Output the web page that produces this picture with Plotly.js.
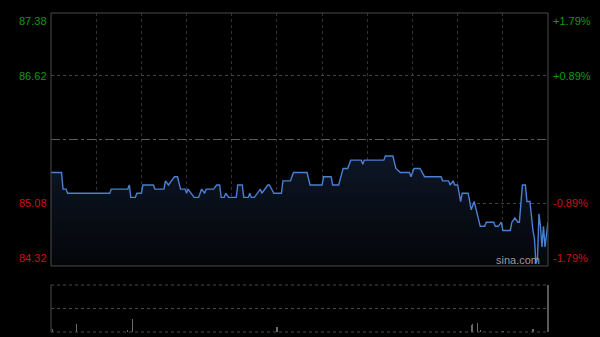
<!DOCTYPE html>
<html>
<head>
<meta charset="utf-8">
<script src="https://cdn.plot.ly/plotly-3.0.1.min.js"></script>
<style>
html,body{margin:0;padding:0;background:#000;}
#chart{width:600px;height:337px;}
</style>
</head>
<body>
<div id="chart"></div>
<script>
// ---- data (minute index from the open, price in HKD) ----
var minutes = [0,7,8,10,11,39,40,51,52,53,56,57,60,61,68,69,75,76,78,80,82,84,86,89,90,91,95,98,100,102,103,108,110,112,113,115,116,118,123,124,127,128,131,132,133,135,137,139,140,144,145,148,153,154,159,161,170,172,180,181,186,187,191,194,197,199,206,207,208,221,222,227,229,232,238,239,241,245,248,259,260,264,265,267,268,270,272,273,277,279,281,285,288,289,294,295,297,299,300,305,306,308,310,311,313,315,316,318,320,321,322,323,324,325,326,327,328,329,330];
var prices  = [85.45,85.45,85.25,85.25,85.20,85.20,85.25,85.25,85.30,85.15,85.15,85.20,85.20,85.30,85.30,85.25,85.25,85.35,85.30,85.35,85.40,85.40,85.25,85.25,85.20,85.25,85.15,85.15,85.25,85.20,85.25,85.25,85.30,85.30,85.15,85.15,85.20,85.15,85.15,85.30,85.30,85.15,85.15,85.20,85.15,85.15,85.20,85.25,85.20,85.30,85.30,85.20,85.20,85.35,85.35,85.45,85.45,85.30,85.30,85.40,85.40,85.30,85.30,85.50,85.50,85.60,85.60,85.55,85.60,85.60,85.65,85.65,85.50,85.45,85.45,85.40,85.50,85.50,85.40,85.40,85.35,85.35,85.30,85.35,85.30,85.30,85.10,85.20,85.20,85.00,85.10,84.80,84.80,84.85,84.85,84.80,84.80,84.85,84.75,84.75,84.85,84.90,84.85,84.85,85.30,85.30,85.10,85.10,84.75,84.65,84.35,84.40,84.95,84.80,84.55,84.80,84.55,84.70,84.85];
var volMinutes = [1,17,51,54,150,272,279,280,283,285,300,320,330];
var volValues  = [6,17,4,28,11,2,15,17,19,4,2,6,100];
var prevClose = 85.85;
var leftTicks  = [87.38, 86.62, 85.08, 84.32];
var leftText   = ['87.38','86.62','85.08','84.32'];
var rightText  = ['+1.79%','+0.89%','-0.89%','-1.79%'];
var gridVals   = [86.62, 85.08];
var sessionMinutes = 330;

var green = '#0f9a0f', red = '#cc1111';
var font = 'Liberation Sans, Arial, sans-serif';

var traces = [
  {
    x: minutes, y: prices, type: 'scatter', mode: 'lines',
    line: {color: '#4a7fd2', width: 1.4},
    fill: 'tozeroy',
    fillgradient: {type: 'vertical', start: 84.32, stop: 85.65,
      colorscale: [[0, '#040609'], [1, '#0d1626']]},
    xaxis: 'x', yaxis: 'y', hoverinfo: 'skip'
  },
  {
    x: volMinutes, y: volValues, type: 'bar',
    marker: {color: '#6a6a6a', line: {width: 0}},
    width: 0.9, xaxis: 'x2', yaxis: 'y2', hoverinfo: 'skip'
  }
];

var annotations = [];
leftTicks.forEach(function (v, i) {
  var anchor = i === 0 ? 'top' : (i === leftTicks.length - 1 ? 'bottom' : 'middle');
  var col = v > prevClose ? green : red;
  annotations.push({xref: 'paper', yref: 'y', x: 0, y: v, xanchor: 'right', yanchor: anchor,
    xshift: -2, text: leftText[i], showarrow: false, font: {family: font, size: 11, color: col}});
  annotations.push({xref: 'paper', yref: 'y', x: 1, y: v, xanchor: 'left', yanchor: anchor,
    xshift: 3, text: rightText[i], showarrow: false, font: {family: font, size: 11, color: col}});
});
annotations.push({xref: 'paper', yref: 'y', x: 0.988, y: 84.32, xanchor: 'right', yanchor: 'bottom',
  yshift: -2, text: 'sina.com', showarrow: false, font: {family: font, size: 11, color: '#9a9a9a'}});

var shapes = [
  {type: 'line', xref: 'x', yref: 'y', x0: 0, x1: sessionMinutes, y0: prevClose, y1: prevClose,
   line: {color: '#5a5a5a', width: 1, dash: 'dashdot'}},
  {type: 'rect', xref: 'paper', yref: 'y domain', x0: 0, x1: 1, y0: 0, y1: 1,
   line: {color: '#4a4a4a', width: 1}},
  {type: 'line', xref: 'paper', yref: 'y2 domain', x0: 0, x1: 1, y0: 1, y1: 1,
   line: {color: '#4a4a4a', width: 1, dash: 'dot'}},
  {type: 'line', xref: 'paper', yref: 'y2 domain', x0: 0, x1: 1, y0: 0, y1: 0,
   line: {color: '#4a4a4a', width: 1, dash: 'dot'}},
  {type: 'line', xref: 'paper', yref: 'y2 domain', x0: 0, x1: 0, y0: 0, y1: 1,
   line: {color: '#4a4a4a', width: 1}},
  {type: 'line', xref: 'paper', yref: 'y2 domain', x0: 1, x1: 1, y0: 0, y1: 1,
   line: {color: '#5a5a5a', width: 2}}
];

var layout = {
  width: 600, height: 337,
  margin: {l: 51, r: 52, t: 13, b: 5},
  paper_bgcolor: '#000', plot_bgcolor: '#000',
  showlegend: false,
  xaxis: {domain: [0, 1], range: [0, sessionMinutes], dtick: 30, tick0: 0, showgrid: true,
    gridcolor: '#333', griddash: 'dot', gridwidth: 1, zeroline: false, showticklabels: false,
    ticks: '', fixedrange: true, anchor: 'y'},
  yaxis: {domain: [0.2069, 1], range: [84.32, 87.38], tickvals: gridVals, showgrid: true,
    gridcolor: '#444', griddash: 'dot', zeroline: false, showticklabels: false, ticks: '',
    fixedrange: true, anchor: 'x'},
  xaxis2: {domain: [0, 1], range: [0, sessionMinutes], showgrid: false, zeroline: false,
    showticklabels: false, ticks: '', anchor: 'y2', fixedrange: true},
  yaxis2: {domain: [0, 0.1473], range: [0, 100], tickvals: [50], showgrid: true,
    gridcolor: '#4a4a4a', griddash: 'dot', zeroline: false, showticklabels: false, ticks: '',
    anchor: 'x2', fixedrange: true},
  bargap: 0,
  annotations: annotations,
  shapes: shapes
};

Plotly.newPlot('chart', traces, layout, {displayModeBar: false, staticPlot: true});
</script>
</body>
</html>
